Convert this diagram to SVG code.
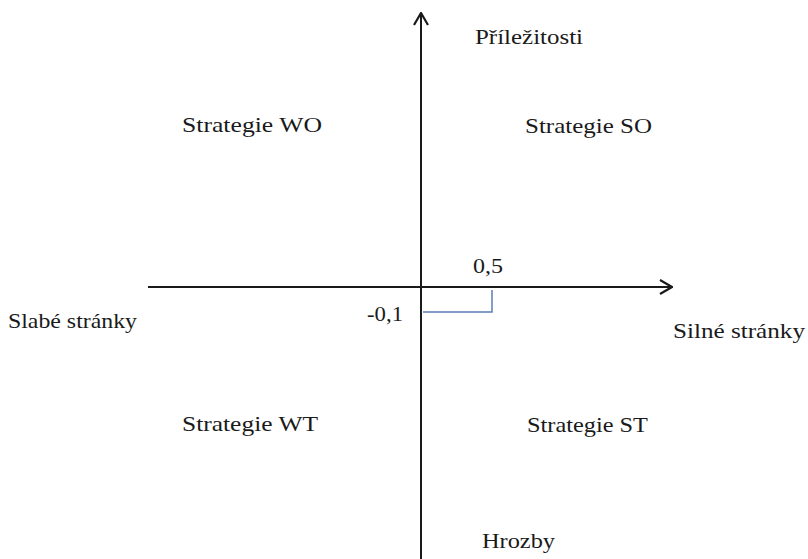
<svg xmlns="http://www.w3.org/2000/svg" width="808" height="559" viewBox="0 0 808 559">
<style>
.ax{stroke:#1a1a1a;stroke-width:2;fill:none}
.br{stroke:#5b7fb8;stroke-width:1.5;fill:none}
</style>
<defs>
<marker id="ah" viewBox="0 0 14 16" refX="13" refY="8" markerWidth="14" markerHeight="16" markerUnits="userSpaceOnUse" orient="auto">
<path d="M1,1 L13,8 L1,15" fill="none" stroke="#1a1a1a" stroke-width="2.2"/>
</marker>
</defs>
<rect width="808" height="559" fill="#fff"/>
<g id="connectors">
<line class="ax" x1="148" y1="287" x2="672" y2="287" marker-end="url(#ah)"/>
<line class="ax" x1="421" y1="559" x2="421" y2="13" marker-end="url(#ah)"/>
<path class="br" d="M423,312 H492 V290"/>
</g>
<g font-family="Liberation Serif, Times New Roman, DejaVu Serif, serif" font-size="22" fill="#1a1a1a">
<g id="opportunities"><text x="475" y="44" textLength="108" lengthAdjust="spacingAndGlyphs">Příležitosti</text></g>
<g id="wo"><text x="182" y="132" textLength="140" lengthAdjust="spacingAndGlyphs">Strategie WO</text></g>
<g id="so"><text x="525" y="133" textLength="127" lengthAdjust="spacingAndGlyphs">Strategie SO</text></g>
<g id="x-value"><text x="473" y="273" textLength="30" lengthAdjust="spacingAndGlyphs">0,5</text></g>
<g id="y-value"><text x="367" y="321" textLength="36" lengthAdjust="spacingAndGlyphs">-0,1</text></g>
<g id="weaknesses"><text x="8" y="328" textLength="129" lengthAdjust="spacingAndGlyphs">Slabé stránky</text></g>
<g id="strengths"><text x="673" y="338" textLength="132" lengthAdjust="spacingAndGlyphs">Silné stránky</text></g>
<g id="wt"><text x="182" y="431" textLength="136" lengthAdjust="spacingAndGlyphs">Strategie WT</text></g>
<g id="st"><text x="527" y="432" textLength="121" lengthAdjust="spacingAndGlyphs">Strategie ST</text></g>
<g id="threats"><text x="482" y="548" textLength="73" lengthAdjust="spacingAndGlyphs">Hrozby</text></g>
</g>
</svg>
